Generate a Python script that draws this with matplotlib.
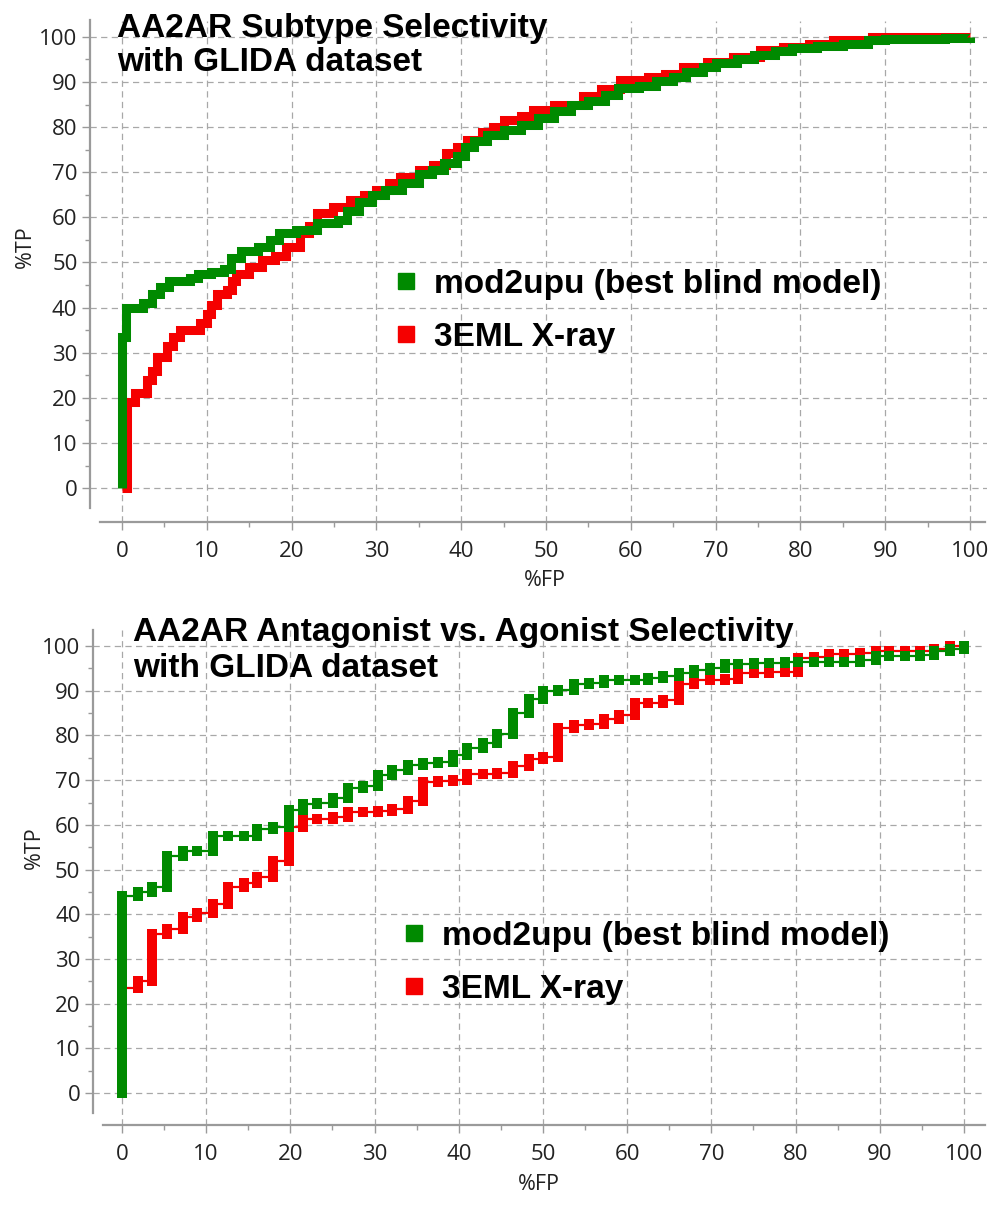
import matplotlib.pyplot as plt
from matplotlib.lines import Line2D
import numpy as np

# ROC curves (%FP, %TP)
# top: AA2AR subtype selectivity
sub_mod_fp = [0, 0, 0.5, 2.5, 3.5, 4.5, 5.5, 8, 9, 10.5, 12, 12.8, 14, 16, 17.5, 18.5, 20.5,
              23, 25.5, 26.5, 28, 29.5, 31, 33, 35, 36.5, 38, 39.5, 40.5, 41.5, 43, 45, 47,
              49, 51, 53, 55, 57, 58.5, 61, 63, 65, 66.5, 68.5, 70, 72.5, 74.5, 77, 79, 82,
              85, 88, 90, 97, 100]
sub_mod_tp = [0, 33.5, 40, 41, 43, 44.5, 46, 46.5, 47.5, 48, 48.5, 51, 52.5, 53.5, 55, 56.5, 57.2,
              58.7, 59.5, 61.5, 63.5, 65, 66, 67.5, 69.5, 70.5, 72, 73.5, 75.5, 77, 78.2, 79.3, 80.5,
              82, 83.5, 84.8, 85.8, 87, 88.6, 89.2, 90.1, 91, 92.3, 93.3, 94.2, 95, 96, 96.8, 97.5, 97.9,
              98.5, 99.2, 99.6, 99.7, 100]
sub_xray_fp = [0, 0.6, 0.6, 1.5, 2.9, 3.5, 4.1, 5.3, 6, 6.8, 9.2, 10, 10.5, 11.2, 12.4, 13, 13.5,
               15, 16.5, 18, 19.4, 21, 22, 23, 24.9, 26.9, 28.5, 30, 31.5, 32.8, 35, 36.7, 38.2,
               39.5, 40.7, 42.5, 43.8, 45, 47, 48.5, 51, 54.4, 56.5, 58.7, 62, 64, 66.2, 69, 72,
               75.2, 78, 81, 83.8, 88.4, 100]
sub_xray_tp = [0, 0, 19, 21, 24, 26, 29, 31.5, 33.5, 35, 36.5, 38.5, 40.5, 43, 44, 46, 47.5,
               49, 50.5, 51.5, 53.5, 56.5, 58, 61, 62.3, 63.9, 65, 66.1, 67.5, 69, 70.5, 71.5, 74.2,
               75.5, 77.2, 79, 80.1, 81.6, 82.5, 83.8, 85, 86.8, 88.5, 90.5, 91, 91.8, 93.4, 94.5, 95.5,
               97, 97.8, 98.5, 99.3, 100, 100]

# bottom: AA2AR antagonist vs. agonist selectivity
ant_mod_fp = [0, 0, 1.9, 3.6, 5.4, 7.2, 8.9, 10.8, 12.6, 14.5, 16.0, 17.9, 19.8, 21.5, 23.2, 25.1,
              26.8, 28.6, 30.4, 32.1, 34.0, 35.7, 37.5, 39.3, 41.0, 42.9, 44.6, 46.4, 48.3, 50.0,
              51.8, 53.7, 55.5, 57.2, 59.0, 60.9, 62.5, 64.3, 66.2, 67.9, 69.8, 71.6, 73.2, 75.1,
              76.9, 78.7, 80.3, 82.2, 84.0, 85.8, 87.6, 89.5, 91.1, 93.0, 94.8, 96.4, 98.3, 100.0]
ant_mod_tp = [0, 44, 45, 46.2, 53.1, 54.1, 54.1, 57.4, 57.4, 57.4, 59.1, 59.6, 63.3, 64.7, 65.0, 65.9,
              68.2, 68.6, 71.1, 72.2, 73.5, 73.8, 74.1, 75.7, 77.3, 78.4, 80.3, 85.1, 88.1, 90.0,
              90.1, 91.6, 91.8, 92.4, 92.5, 92.5, 92.8, 93.2, 93.9, 94.6, 95.0, 95.9, 96.0, 96.2,
              96.3, 96.4, 96.5, 96.5, 96.5, 96.5, 96.9, 97.7, 97.7, 97.7, 98.0, 98.8, 99.4, 100]
ant_xray_fp = [0, 0, 1.9, 3.6, 5.4, 7.2, 8.9, 10.8, 12.6, 14.5, 16.0, 17.9, 19.8, 21.5, 23.2, 25.1,
               26.8, 28.6, 30.4, 32.1, 34.0, 35.7, 37.5, 39.3, 41.0, 42.9, 44.6, 46.4, 48.3, 50.0,
               51.8, 53.7, 55.5, 57.2, 59.0, 60.9, 62.5, 64.3, 66.2, 67.9, 69.8, 71.6, 73.2, 75.1,
               76.9, 78.7, 80.3, 82.2, 84.0, 85.8, 87.6, 89.5, 91.1, 93.0, 94.8, 96.4, 98.3, 100.0]
ant_xray_tp = [0, 23.5, 25.0, 35.6, 36.7, 39.3, 40.2, 42.3, 46.0, 46.9, 48.4, 52.0, 59.5, 61.3, 61.3, 61.8,
               62.8, 62.8, 63.0, 63.5, 65.3, 69.5, 69.9, 70.0, 71.3, 71.3, 71.5, 73.2, 74.7, 75.1,
               81.7, 82.4, 82.6, 83.6, 84.6, 87.2, 87.2, 87.9, 91.5, 92.4, 92.4, 92.6, 94.0, 94.0,
               94.2, 94.3, 97.4, 97.6, 98.2, 98.2, 98.4, 99.0, 99.0, 99.0, 99.0, 99.4, 100, 100]

labels = ['mod2upu (best blind model)', '3EML X-ray']

GREEN = '#008a00'
RED = '#f50000'
GRID = '#a8a8a8'
SPINE = '#9a9a9a'
TICKFONT = 'Open Sans'
BOLD = 'Liberation Sans'
PEN = 7.2  # width of the rising segments, points

W, H = 992, 1205
fig = plt.figure(figsize=(W / 100, H / 100), dpi=100)


def px_box(left, top, right, bottom):
    return [left / W, 1 - bottom / H, (right - left) / W, (bottom - top) / H]


def style_axes(ax, xlim, ylim, left_bounds, bottom_bounds, ylab_xy, xlab_xy):
    ax.set_xlim(*xlim)
    ax.set_ylim(*ylim)
    for s in ['top', 'right']:
        ax.spines[s].set_visible(False)
    ax.spines['left'].set_bounds(*left_bounds)
    ax.spines['bottom'].set_bounds(*bottom_bounds)
    for s in ['left', 'bottom']:
        ax.spines[s].set_color(SPINE)
        ax.spines[s].set_linewidth(1.6)
    ax.set_xticks(np.arange(0, 101, 10))
    ax.set_yticks(np.arange(0, 101, 10))
    ax.set_xticks(np.arange(5, 100, 10), minor=True)
    ax.set_yticks(np.arange(5, 100, 10), minor=True)
    ax.tick_params(which='major', length=6, width=1, color=SPINE, labelsize=16,
                   labelcolor='#222222')
    ax.tick_params(which='minor', length=3.5, width=1, color=SPINE)
    ax.tick_params(axis='x', which='major', pad=8)
    ax.tick_params(axis='y', which='major', pad=3)
    for lab in ax.get_xticklabels() + ax.get_yticklabels():
        lab.set_fontfamily(TICKFONT)
    ax.grid(True, which='major', color=GRID, linestyle=(0, (5, 3.5)), linewidth=0.9)
    ax.set_axisbelow(True)
    ax.set_xlabel('%FP', fontsize=15.5, fontfamily=TICKFONT, color='#222222')
    ax.set_ylabel('%TP', fontsize=15.5, fontfamily=TICKFONT, color='#222222')
    ax.yaxis.set_label_coords(*ylab_xy)
    ax.xaxis.set_label_coords(*xlab_xy)


def legend(ax, left, top):
    handles = [Line2D([], [], marker='s', color=c, linestyle='none', markersize=11)
               for c in (GREEN, RED)]
    ax.legend(handles, labels, loc='upper left', bbox_to_anchor=(left / W, 1 - top / H),
              bbox_transform=fig.transFigure, frameon=False, borderpad=0, borderaxespad=0,
              handlelength=0.55, handletextpad=0.55, labelspacing=0.65,
              prop={'family': BOLD, 'weight': 'bold', 'size': 24})


def roc_blocks(ax, fp, tp, color):
    # thin horizontal runs, thick vertical rises with square ends (rectangular pen look)
    fp = np.asarray(fp)
    tp = np.asarray(tp)
    ax.step(fp, tp, where='post', color=color, lw=1.6, zorder=3)
    ax.vlines(fp[1:], tp[:-1], tp[1:], colors=color, linewidths=PEN, zorder=3,
              antialiased=False)
    for ends in (tp[:-1], tp[1:]):
        ax.plot(fp[1:], ends, linestyle='none', marker='s', markersize=PEN,
                markeredgewidth=0, color=color, zorder=3)


# ---- top panel ----
ax1 = fig.add_axes(px_box(90, 21, 987, 522))
ax1.step(sub_xray_fp, sub_xray_tp, where='post', color=RED, lw=6.5, solid_joinstyle='miter',
         solid_capstyle='butt', zorder=3)
ax1.step(sub_mod_fp, sub_mod_tp, where='post', color=GREEN, lw=6.5, solid_joinstyle='miter',
         solid_capstyle='butt', zorder=4)
style_axes(ax1, (-3.77, 102.0), (-7.5, 103.5), (-4.4, 103.8), (-2.6, 101.8),
           (-0.06, 0.55), (0.507, -0.095))
legend(ax1, 397, 269)
fig.text(117 / W, 1 - 13 / H, 'AA2AR Subtype Selectivity\nwith GLIDA dataset',
         ha='left', va='top', fontsize=24, fontweight='bold', family=BOLD, linespacing=1.12)

# ---- bottom panel ----
ax2 = fig.add_axes(px_box(93, 630, 985, 1125))
roc_blocks(ax2, ant_xray_fp, ant_xray_tp, RED)
roc_blocks(ax2, ant_mod_fp, ant_mod_tp, GREEN)
style_axes(ax2, (-3.44, 102.5), (-7.16, 103.6), (-4.5, 103.6), (-2.3, 102.5),
           (-0.054, 0.56), (0.5, -0.1))
legend(ax2, 405, 921)
fig.text(133 / W, 1 - 617 / H, 'AA2AR Antagonist vs. Agonist Selectivity\nwith GLIDA dataset',
         ha='left', va='top', fontsize=24, fontweight='bold', family=BOLD, linespacing=1.2)

fig.savefig('out.png', dpi=100)
